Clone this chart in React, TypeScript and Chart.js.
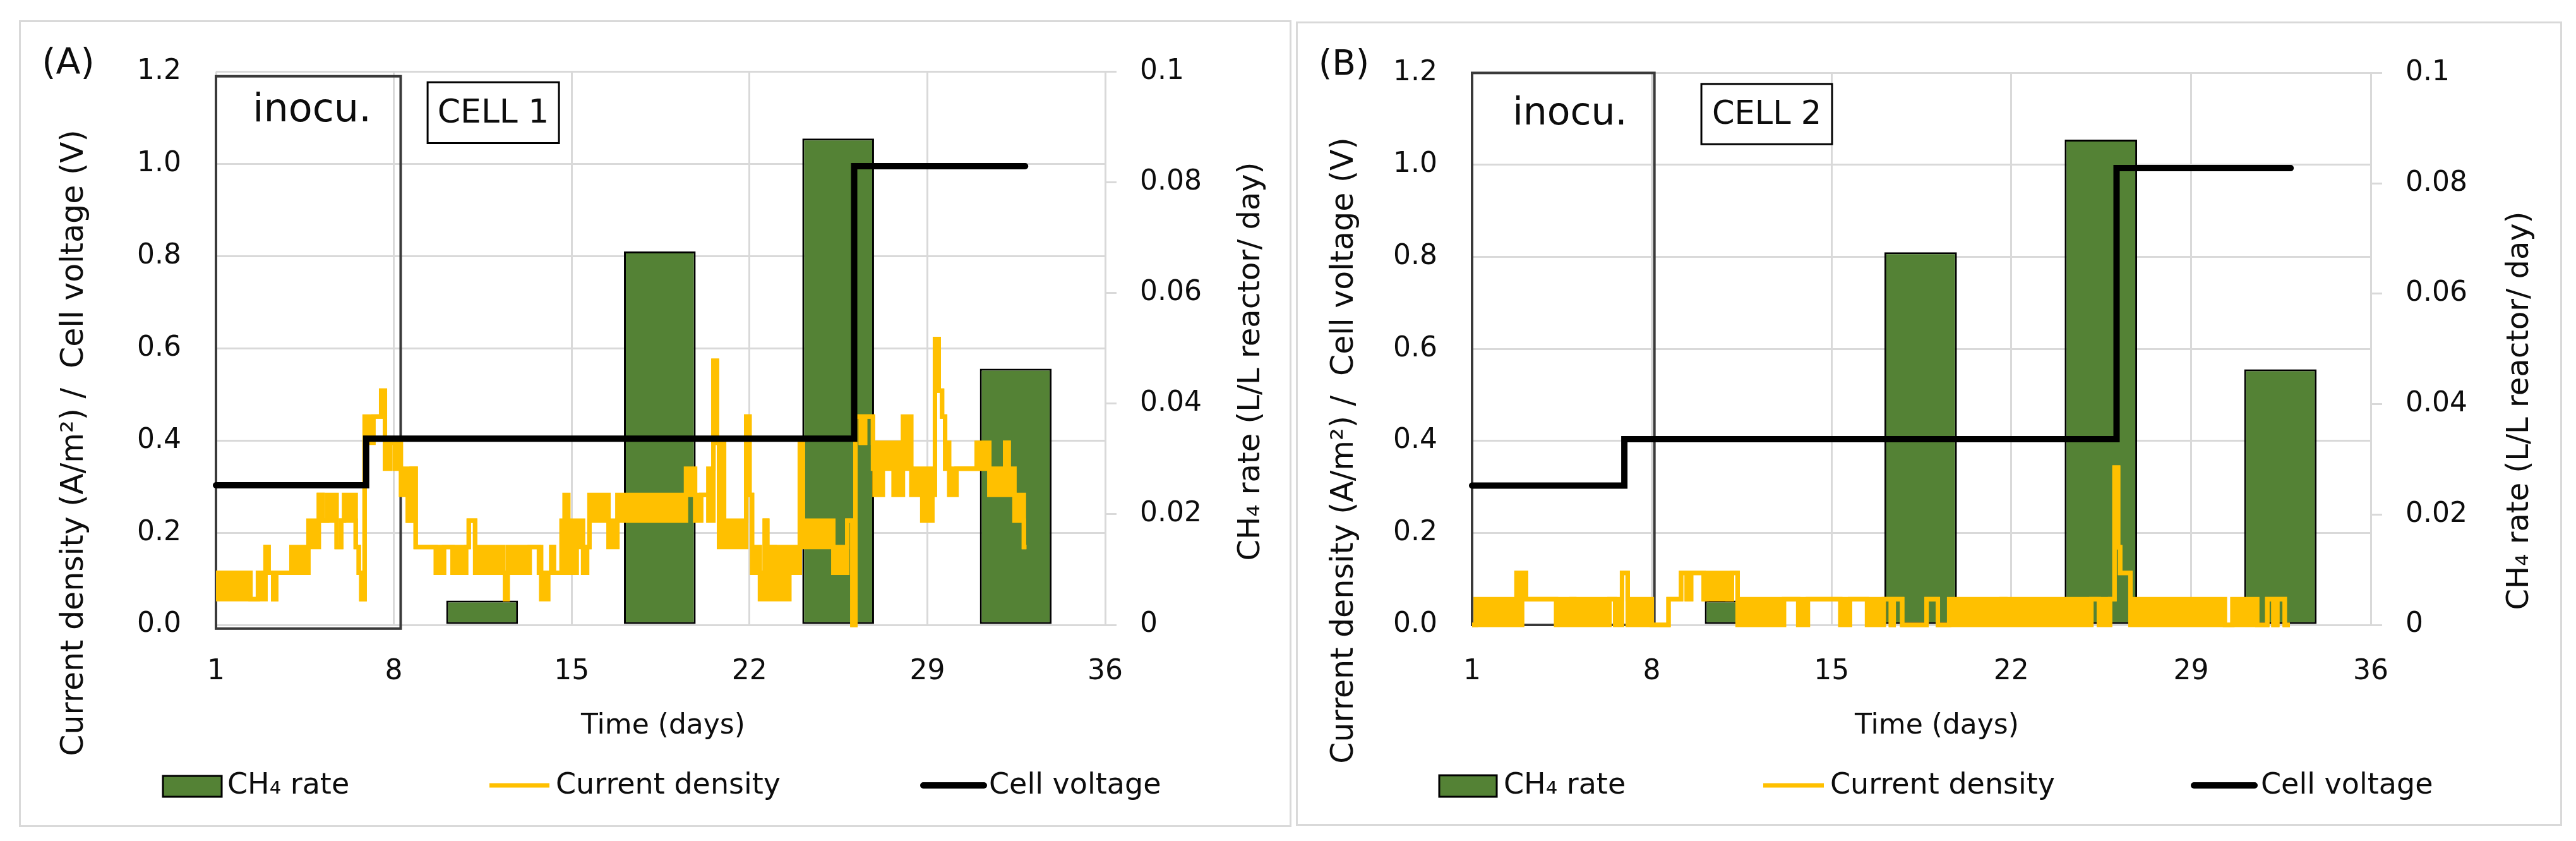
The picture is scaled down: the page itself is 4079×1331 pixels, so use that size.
import React, { useEffect, useRef } from 'react';
import { Chart, registerables } from 'chart.js';

Chart.register(...registerables);

// ---------------- data ----------------
const dayTicks = [1, 8, 15, 22, 29, 36];
const leftTicks = [0, 0.2, 0.4, 0.6, 0.8, 1.0, 1.2];
const rightTicks = [0, 0.02, 0.04, 0.06, 0.08, 0.1];

// CH4 production rate bars: days covered by each measurement, rate (L/L reactor/day)
const ch4StartDay = [10.05, 17.06, 24.1, 31.06];
const ch4EndDay = [12.9, 19.88, 26.88, 33.9];
const ch4Rate = [0.0044, 0.0675, 0.0879, 0.0463];

// Cell voltage (V): step changes (last entry = end of record)
const voltDays1 = [1, 6.91, 26.12, 32.85];
const volt1 = [0.303, 0.404, 0.995, 0.995];
const voltDays2 = [1, 6.93, 26.1, 32.88];
const volt2 = [0.303, 0.404, 0.993, 0.993];

// Current density (A/m²), CELL 1: start day of each segment, lowest and highest
// level the (rapidly toggling) signal takes within that segment
const cdDays1 = [
  1.0, 2.36, 2.65, 2.95, 3.07, 3.25, 3.37, 3.97, 4.64, 5.05,
  5.2, 5.38, 5.75, 5.93, 6.04, 6.5, 6.62, 6.72, 6.85, 7.2,
  7.5, 7.65, 7.85, 8.03, 8.28, 8.55, 8.7, 8.86, 9.65, 9.98,
  10.31, 10.85, 10.95, 11.2, 12.3, 12.38, 12.48, 13.35, 13.71, 13.8,
  14.08, 14.2, 14.3, 14.6, 14.72, 14.87, 15.2, 15.45, 15.61, 15.7,
  16.45, 16.8, 19.5, 19.86, 20.1, 20.38, 20.58, 20.72, 20.8, 20.9,
  21.0, 21.87, 22.0, 22.1, 22.41, 22.6, 22.7, 22.82, 22.99, 23.57,
  23.98, 24.1, 25.3, 25.85, 26.05, 26.17, 26.38, 26.55, 26.86, 26.92,
  27.25, 27.67, 28.04, 28.37, 28.8, 29.2, 29.3, 29.45, 29.58, 29.7,
  29.86, 30.15, 30.94, 31.44, 32.06, 32.2, 32.43, 32.8,
];
const cdLow1 = [
  0.056, 0.056, 0.056, 0.169, 0.113, 0.056, 0.113, 0.113, 0.169, 0.282,
  0.226, 0.226, 0.169, 0.226, 0.226, 0.169, 0.113, 0.056, 0.395, 0.452,
  0.508, 0.339, 0.395, 0.339, 0.282, 0.226, 0.339, 0.169, 0.113, 0.169,
  0.113, 0.169, 0.226, 0.113, 0.113, 0.056, 0.113, 0.169, 0.113, 0.056,
  0.113, 0.169, 0.113, 0.113, 0.169, 0.113, 0.169, 0.113, 0.169, 0.226,
  0.169, 0.226, 0.282, 0.226, 0.282, 0.226, 0.573, 0.395, 0.169, 0.395,
  0.169, 0.452, 0.282, 0.113, 0.056, 0.226, 0.056, 0.169, 0.056, 0.113,
  0.395, 0.169, 0.113, 0.226, 0, 0.452, 0.395, 0.452, 0.339, 0.282,
  0.339, 0.282, 0.339, 0.282, 0.226, 0.282, 0.62, 0.508, 0.452, 0.339,
  0.282, 0.339, 0.339, 0.282, 0.395, 0.282, 0.226, 0.169,
];
const cdHigh1 = [
  0.113, 0.056, 0.113, 0.169, 0.113, 0.056, 0.113, 0.169, 0.226, 0.282,
  0.226, 0.282, 0.169, 0.226, 0.282, 0.169, 0.113, 0.056, 0.452, 0.452,
  0.508, 0.395, 0.395, 0.395, 0.339, 0.226, 0.339, 0.169, 0.169, 0.169,
  0.169, 0.169, 0.226, 0.169, 0.113, 0.056, 0.169, 0.169, 0.169, 0.113,
  0.113, 0.169, 0.113, 0.226, 0.282, 0.226, 0.226, 0.169, 0.169, 0.282,
  0.226, 0.282, 0.339, 0.282, 0.282, 0.339, 0.573, 0.395, 0.226, 0.395,
  0.226, 0.452, 0.282, 0.169, 0.113, 0.226, 0.113, 0.169, 0.169, 0.169,
  0.395, 0.226, 0.169, 0.226, 0, 0.452, 0.395, 0.452, 0.395, 0.395,
  0.395, 0.395, 0.452, 0.339, 0.339, 0.339, 0.62, 0.508, 0.452, 0.395,
  0.339, 0.339, 0.395, 0.339, 0.395, 0.339, 0.282, 0.169,
];
const cdEnd1 = 32.9;

// Current density (A/m²), CELL 2
const cdDays2 = [
  1.0, 1.14, 2.73, 2.86, 2.95, 3.1, 4.27, 4.87, 4.98, 6.35,
  6.57, 6.84, 7.06, 8.0, 8.65, 9.14, 9.36, 9.53, 10.02, 10.13,
  10.95, 11.12, 11.34, 13.15, 13.7, 14.08, 15.34, 15.72, 16.38, 17.04,
  17.31, 17.42, 17.75, 18.7, 19.14, 19.58, 21.62, 21.77, 25.12, 25.41,
  25.85, 26.02, 26.16, 26.24, 26.64, 30.32, 30.61, 31.58, 31.97, 32.21,
  32.36, 32.65,
];
const cdLow2 = [
  0, 0, 0.113, 0, 0.113, 0.056, 0, 0.056, 0, 0.056,
  0, 0.113, 0, 0, 0.056, 0.113, 0.056, 0.113, 0.056, 0.056,
  0.056, 0.113, 0, 0.056, 0, 0.056, 0, 0.056, 0, 0.056,
  0, 0.056, 0, 0.056, 0, 0, 0.056, 0, 0.056, 0,
  0.056, 0.342, 0.169, 0.113, 0, 0, 0, 0, 0.056, 0,
  0.056, 0,
];
const cdHigh2 = [
  0, 0.056, 0.113, 0.056, 0.113, 0.056, 0.056, 0.056, 0.056, 0.056,
  0.056, 0.113, 0.056, 0, 0.056, 0.113, 0.056, 0.113, 0.056, 0.113,
  0.056, 0.113, 0.056, 0.056, 0.056, 0.056, 0.056, 0.056, 0.056, 0.056,
  0, 0.056, 0, 0.056, 0, 0.056, 0.056, 0.056, 0.056, 0.056,
  0.056, 0.342, 0.169, 0.113, 0.056, 0, 0.056, 0, 0.056, 0,
  0.056, 0,
];
const cdEnd2 = 32.85;

// ---------------- styles / layout ----------------
const FONT = "'DejaVu Sans', Verdana, sans-serif";
const GRID = '#d9d9d9';
const GREEN = '#548235';
const YELLOW = '#FFC000';
const TEXT = '#0d0d0d';
const LEFT_TITLE = 'Current density (A/m²) /  Cell voltage (V)';
const RIGHT_TITLE = 'CH₄ rate (L/L reactor/ day)';

type Panel = {
  id: string;
  ox: number; oy: number; w: number; h: number;
  pad: { left: number; right: number; top: number; bottom: number };
  label: string; labelPos: [number, number, number];
  leftTitle: [number, number]; rightTitle: [number, number]; xTitle: [number, number];
  legend: { box: [number, number, number, number]; t1: number; l2: [number, number]; t2: number; l3: [number, number]; t3: number; y: number };
  inocu: { x0: number; x1: number; y0: number; y1: number; tx: number; ty: number; size: number };
  cell: { text: string; x0: number; x1: number; y0: number; y1: number; size: number };
  cdDays: number[]; cdLow: number[]; cdHigh: number[]; cdEnd: number;
  vDays: number[]; volt: number[];
};

const panels: Panel[] = [
  {
    id: 'A', ox: 30, oy: 32, w: 2015, h: 1277,
    pad: { left: 162, right: 95, top: 63, bottom: 220 },
    label: '(A)', labelPos: [108, 102, 57],
    leftTitle: [118, 701], rightTitle: [1982, 572], xTitle: [1050, 1150],
    legend: { box: [258, 1228, 93, 33], t1: 360, l2: [775, 870], t2: 880, l3: [1462, 1558], t3: 1566, y: 1244 },
    inocu: { x0: 1, x1: 8.27, y0: -0.008, y1: 1.19, tx: 4.78, ty: 1.114, size: 62 },
    cell: { text: 'CELL 1', x0: 9.33, x1: 14.5, y0: 1.045, y1: 1.177, size: 52 },
    cdDays: cdDays1, cdLow: cdLow1, cdHigh: cdHigh1, cdEnd: cdEnd1,
    vDays: voltDays1, volt: volt1,
  },
  {
    id: 'B', ox: 2052, oy: 34, w: 2005, h: 1273,
    pad: { left: 129, right: 103, top: 61, bottom: 218 },
    label: '(B)', labelPos: [2128, 104, 55],
    leftTitle: [2129, 713], rightTitle: [3991, 650], xTitle: [3067, 1150],
    legend: { box: [2279, 1227, 91, 34], t1: 2381, l2: [2792, 2888], t2: 2898, l3: [3474, 3570], t3: 3580, y: 1244 },
    inocu: { x0: 1, x1: 8.1, y0: 0, y1: 1.2, tx: 4.81, ty: 1.11, size: 60 },
    cell: { text: 'CELL 2', x0: 9.93, x1: 15.02, y0: 1.045, y1: 1.176, size: 51 },
    cdDays: cdDays2, cdLow: cdLow2, cdHigh: cdHigh2, cdEnd: cdEnd2,
    vDays: voltDays2, volt: volt2,
  },
];

function stepPoints(days: number[], vals: number[], end?: number) {
  const pts = days.map((d, i) => ({ x: d, y: vals[i] }));
  if (end !== undefined) pts.push({ x: end, y: vals[vals.length - 1] });
  return pts;
}

function drawText(ctx: CanvasRenderingContext2D, s: string, x: number, y: number, size: number, align: CanvasTextAlign = 'center', rot = 0) {
  ctx.save();
  ctx.translate(x, y);
  if (rot) ctx.rotate(rot);
  ctx.font = `${size}px ${FONT}`;
  ctx.fillStyle = TEXT;
  ctx.textAlign = align;
  ctx.textBaseline = 'middle';
  ctx.fillText(s, 0, 0);
  ctx.restore();
}

function makeDecor(p: Panel) {
  return {
    id: 'decor' + p.id,
    beforeDatasetsDraw(chart: any) {
      const { ctx, scales } = chart;
      const x = scales.x, y = scales.y;
      const X0 = x.getPixelForValue(p.inocu.x0), X1 = x.getPixelForValue(p.inocu.x1);
      const Y0 = y.getPixelForValue(p.inocu.y0), Y1 = y.getPixelForValue(p.inocu.y1);
      ctx.save();
      ctx.strokeStyle = '#3a3a3a';
      ctx.lineWidth = 4;
      ctx.strokeRect(X0, Y1, X1 - X0, Y0 - Y1);
      ctx.restore();
    },
    afterDatasetsDraw(chart: any) {
      const { ctx, scales } = chart;
      const x = scales.x, y = scales.y;
      drawText(ctx, 'inocu.', x.getPixelForValue(p.inocu.tx), y.getPixelForValue(p.inocu.ty), p.inocu.size);
      const c = p.cell;
      const X0 = x.getPixelForValue(c.x0), X1 = x.getPixelForValue(c.x1);
      const Y0 = y.getPixelForValue(c.y0), Y1 = y.getPixelForValue(c.y1);
      ctx.save();
      ctx.fillStyle = '#fff';
      ctx.fillRect(X0, Y1, X1 - X0, Y0 - Y1);
      ctx.strokeStyle = '#000';
      ctx.lineWidth = 3;
      ctx.strokeRect(X0, Y1, X1 - X0, Y0 - Y1);
      ctx.restore();
      drawText(ctx, c.text, (X0 + X1) / 2, (Y0 + Y1) / 2 + 2, c.size);
    },
    afterDraw(chart: any) {
      const ctx: CanvasRenderingContext2D = chart.ctx;
      ctx.save();
      ctx.translate(-p.ox, -p.oy);
      drawText(ctx, p.label, p.labelPos[0], p.labelPos[1], p.labelPos[2]);
      drawText(ctx, LEFT_TITLE, p.leftTitle[0], p.leftTitle[1], 49, 'center', -Math.PI / 2);
      drawText(ctx, RIGHT_TITLE, p.rightTitle[0], p.rightTitle[1], 48, 'center', -Math.PI / 2);
      drawText(ctx, 'Time (days)', p.xTitle[0], p.xTitle[1], 44);
      const L = p.legend;
      ctx.fillStyle = GREEN;
      ctx.fillRect(L.box[0], L.box[1], L.box[2], L.box[3]);
      ctx.strokeStyle = '#000';
      ctx.lineWidth = 3;
      ctx.strokeRect(L.box[0], L.box[1], L.box[2], L.box[3]);
      drawText(ctx, 'CH₄ rate', L.t1, L.y, 46, 'left');
      ctx.beginPath();
      ctx.strokeStyle = YELLOW;
      ctx.lineWidth = 7;
      ctx.moveTo(L.l2[0], L.y - 1);
      ctx.lineTo(L.l2[1], L.y - 1);
      ctx.stroke();
      drawText(ctx, 'Current density', L.t2, L.y, 46, 'left');
      ctx.beginPath();
      ctx.strokeStyle = '#000';
      ctx.lineWidth = 10;
      ctx.lineCap = 'round';
      ctx.moveTo(L.l3[0], L.y - 1);
      ctx.lineTo(L.l3[1], L.y - 1);
      ctx.stroke();
      drawText(ctx, 'Cell voltage', L.t3, L.y, 46, 'left');
      ctx.restore();
    },
  };
}

function PanelChart({ p }: { p: Panel }) {
  const ref = useRef<HTMLCanvasElement>(null);
  useEffect(() => {
    if (!ref.current) return;
    const widths = ch4StartDay.map((s, i) => ch4EndDay[i] - s);
    const centers = ch4StartDay.map((s, i) => (s + ch4EndDay[i]) / 2);
    let minGap = dayTicks[1] - dayTicks[0];
    for (let i = 1; i < centers.length; i++) minGap = Math.min(minGap, centers[i] - centers[i - 1]);
    const avgWidth = widths.reduce((a, b) => a + b, 0) / widths.length;

    const tickFont = { family: FONT, size: 44 };
    const chart = new Chart(ref.current, {
      type: 'bar',
      data: {
        datasets: [
          {
            type: 'line',
            label: 'Cell voltage',
            data: stepPoints(p.vDays, p.volt),
            borderColor: '#000',
            borderWidth: 10,
            stepped: 'before',
            pointRadius: 0,
            borderCapStyle: 'round',
            fill: false,
            yAxisID: 'y',
            order: 0,
            clip: false,
          } as any,
          {
            type: 'line',
            label: 'Current density',
            data: stepPoints(p.cdDays, p.cdHigh, p.cdEnd),
            borderColor: YELLOW,
            backgroundColor: YELLOW,
            borderWidth: 7,
            stepped: 'before',
            pointRadius: 0,
            fill: '+1',
            yAxisID: 'y',
            order: 1,
            clip: false,
          } as any,
          {
            type: 'line',
            label: 'Current density (lower)',
            data: stepPoints(p.cdDays, p.cdLow, p.cdEnd),
            borderColor: YELLOW,
            borderWidth: 7,
            stepped: 'before',
            pointRadius: 0,
            fill: false,
            yAxisID: 'y',
            order: 1,
            clip: false,
          } as any,
          {
            type: 'bar',
            label: 'CH₄ rate',
            data: centers.map((c, i) => ({ x: c, y: ch4Rate[i] })),
            backgroundColor: GREEN,
            borderColor: '#000',
            borderWidth: 3,
            borderSkipped: false,
            categoryPercentage: 1,
            barPercentage: avgWidth / minGap,
            yAxisID: 'y2',
            order: 3,
          } as any,
        ],
      },
      options: {
        animation: false,
        responsive: false,
        maintainAspectRatio: false,
        devicePixelRatio: 1,
        events: [],
        layout: { padding: p.pad },
        plugins: {
          legend: { display: false },
          tooltip: { enabled: false },
          title: { display: false },
        },
        scales: {
          x: {
            type: 'linear',
            min: 1,
            max: 36,
            offset: false,
            afterBuildTicks: (s: any) => { s.ticks = dayTicks.map((v) => ({ value: v })); },
            afterFit: (s: any) => { s.height = 100; },
            ticks: { font: tickFont, color: TEXT, padding: 48, maxRotation: 0, autoSkip: false },
            grid: { color: GRID, lineWidth: 3, drawTicks: false, offset: false },
            border: { display: false },
          },
          y: {
            type: 'linear',
            position: 'left',
            min: 0,
            max: 1.2,
            afterBuildTicks: (s: any) => { s.ticks = leftTicks.map((v) => ({ value: v })); },
            afterFit: (s: any) => { s.width = 150; },
            ticks: { font: tickFont, color: TEXT, padding: 55, callback: (v: any) => Number(v).toFixed(1) },
            grid: { color: GRID, lineWidth: 3, drawTicks: false },
            border: { display: false },
          },
          y2: {
            type: 'linear',
            position: 'right',
            min: 0,
            max: 0.1,
            afterBuildTicks: (s: any) => { s.ticks = rightTicks.map((v) => ({ value: v })); },
            afterFit: (s: any) => { s.width = 200; },
            ticks: { font: tickFont, color: TEXT, padding: 37, callback: (v: any) => String(v) },
            grid: { drawOnChartArea: false, drawTicks: true, tickLength: 18, color: GRID, lineWidth: 3 },
            border: { display: true, color: GRID, width: 3 },
          },
        },
      } as any,
      plugins: [makeDecor(p)],
    });
    return () => chart.destroy();
  }, [p]);
  return (
    <canvas
      ref={ref}
      width={p.w}
      height={p.h}
      style={{ position: 'absolute', left: p.ox, top: p.oy, width: p.w, height: p.h }}
    />
  );
}

export default function App() {
  return (
    <div style={{ position: 'absolute', left: 0, top: 0, width: 4079, height: 1331, background: '#fff', overflow: 'hidden' }}>
      {panels.map((p) => (
        <div
          key={'f' + p.id}
          style={{
            position: 'absolute', left: p.ox, top: p.oy, width: p.w, height: p.h,
            border: '3px solid #d9d9d9', boxSizing: 'border-box',
          }}
        />
      ))}
      {panels.map((p) => (
        <PanelChart key={p.id} p={p} />
      ))}
    </div>
  );
}
